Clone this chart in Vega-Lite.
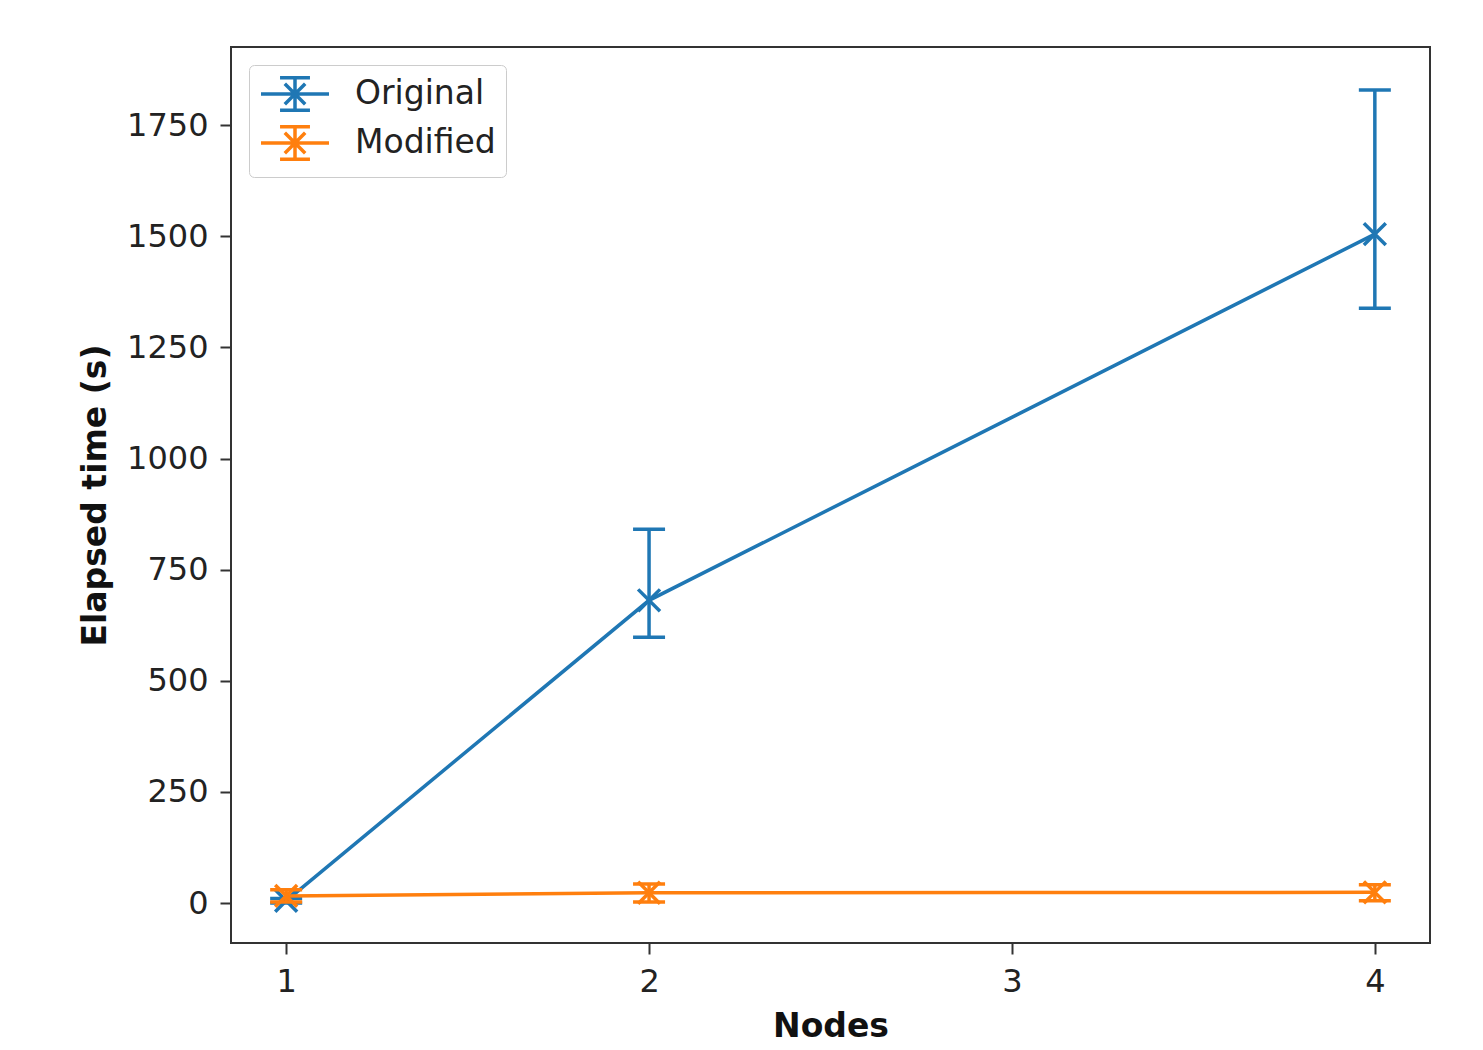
{
  "$schema": "https://vega.github.io/schema/vega-lite/v6.json",
  "width": 1199,
  "height": 896,
  "autosize": {"type": "none"},
  "padding": {"left": 231, "top": 47, "right": 53, "bottom": 107},
  "background": "white",
  "config": {
    "font": "DejaVu Sans",
    "view": {"stroke": "#333333", "strokeWidth": 2},
    "axis": {
      "grid": false,
      "domain": false,
      "tickColor": "#333333",
      "tickWidth": 2,
      "tickSize": 11,
      "labelFont": "DejaVu Sans",
      "labelFontSize": 32,
      "labelColor": "#222222",
      "labelPadding": 12,
      "titleFont": "DejaVu Sans",
      "titleFontSize": 33,
      "titleFontWeight": "bold",
      "titleColor": "#111111"
    },
    "legend": {
      "orient": "top-left",
      "offset": 18,
      "padding": 10,
      "strokeColor": "#cccccc",
      "fillColor": "white",
      "cornerRadius": 5,
      "title": null,
      "symbolType": "M-1,0H3M1,-0.95V0.95M0.12,-0.95H1.88M0.12,0.95H1.88M0.4,-0.6L1.6,0.6M0.4,0.6L1.6,-0.6",
      "symbolSize": 1156,
      "symbolStrokeWidth": 3.5,
      "symbolOpacity": 1,
      "symbolFillColor": "transparent",
      "labelFont": "DejaVu Sans",
      "labelFontSize": 33,
      "labelColor": "#222222",
      "labelOffset": 58,
      "rowPadding": 1
    }
  },
  "data": {
    "values": [
      {"series": "Original", "nodes": 1, "time": 5, "lo": 0, "hi": 10},
      {"series": "Original", "nodes": 2, "time": 681, "lo": 598, "hi": 841},
      {"series": "Original", "nodes": 4, "time": 1505, "lo": 1338, "hi": 1829},
      {"series": "Modified", "nodes": 1, "time": 16, "lo": 2, "hi": 30},
      {"series": "Modified", "nodes": 2, "time": 23, "lo": 2, "hi": 43},
      {"series": "Modified", "nodes": 4, "time": 24, "lo": 5, "hi": 41}
    ]
  },
  "encoding": {
    "x": {
      "field": "nodes", "type": "quantitative",
      "scale": {"domain": [0.848, 4.152], "nice": false, "zero": false},
      "axis": {"values": [1, 2, 3, 4], "format": "d", "title": "Nodes", "titlePadding": 13}
    },
    "color": {
      "field": "series", "type": "nominal",
      "scale": {"domain": ["Original", "Modified"], "range": ["#1f77b4", "#ff7f0e"]}
    }
  },
  "layer": [
    {
      "transform": [{"filter": "datum.series === 'Original'"}],
      "layer": [
        {
          "mark": {"type": "line", "strokeWidth": 3.5},
          "encoding": {"y": {"field": "time", "type": "quantitative", "title": "Elapsed time (s)",
            "scale": {"domain": [-90, 1926], "nice": false, "zero": false},
            "axis": {"values": [0, 250, 500, 750, 1000, 1250, 1500, 1750], "format": "d", "title": "Elapsed time (s)", "titlePadding": 14}}}
        },
        {
          "mark": {"type": "errorbar", "opacity": 1, "thickness": 3.5, "ticks": {"size": 32, "thickness": 3.5, "opacity": 1}},
          "encoding": {"y": {"field": "lo", "type": "quantitative", "title": "Elapsed time (s)"}, "y2": {"field": "hi", "title": "Elapsed time (s)"}}
        },
        {
          "mark": {"type": "point", "shape": "M-1,-1L1,1M-1,1L1,-1", "filled": false, "strokeWidth": 3.5, "size": 480, "opacity": 1},
          "encoding": {"y": {"field": "time", "type": "quantitative", "title": "Elapsed time (s)"}}
        }
      ]
    },
    {
      "transform": [{"filter": "datum.series === 'Modified'"}],
      "layer": [
        {
          "mark": {"type": "line", "strokeWidth": 3.5},
          "encoding": {"y": {"field": "time", "type": "quantitative", "title": "Elapsed time (s)"}}
        },
        {
          "mark": {"type": "errorbar", "opacity": 1, "thickness": 3.5, "ticks": {"size": 32, "thickness": 3.5, "opacity": 1}},
          "encoding": {"y": {"field": "lo", "type": "quantitative", "title": "Elapsed time (s)"}, "y2": {"field": "hi", "title": "Elapsed time (s)"}}
        },
        {
          "mark": {"type": "point", "shape": "M-1,-1L1,1M-1,1L1,-1", "filled": false, "strokeWidth": 3.5, "size": 480, "opacity": 1},
          "encoding": {"y": {"field": "time", "type": "quantitative", "title": "Elapsed time (s)"}}
        }
      ]
    }
  ]
}
